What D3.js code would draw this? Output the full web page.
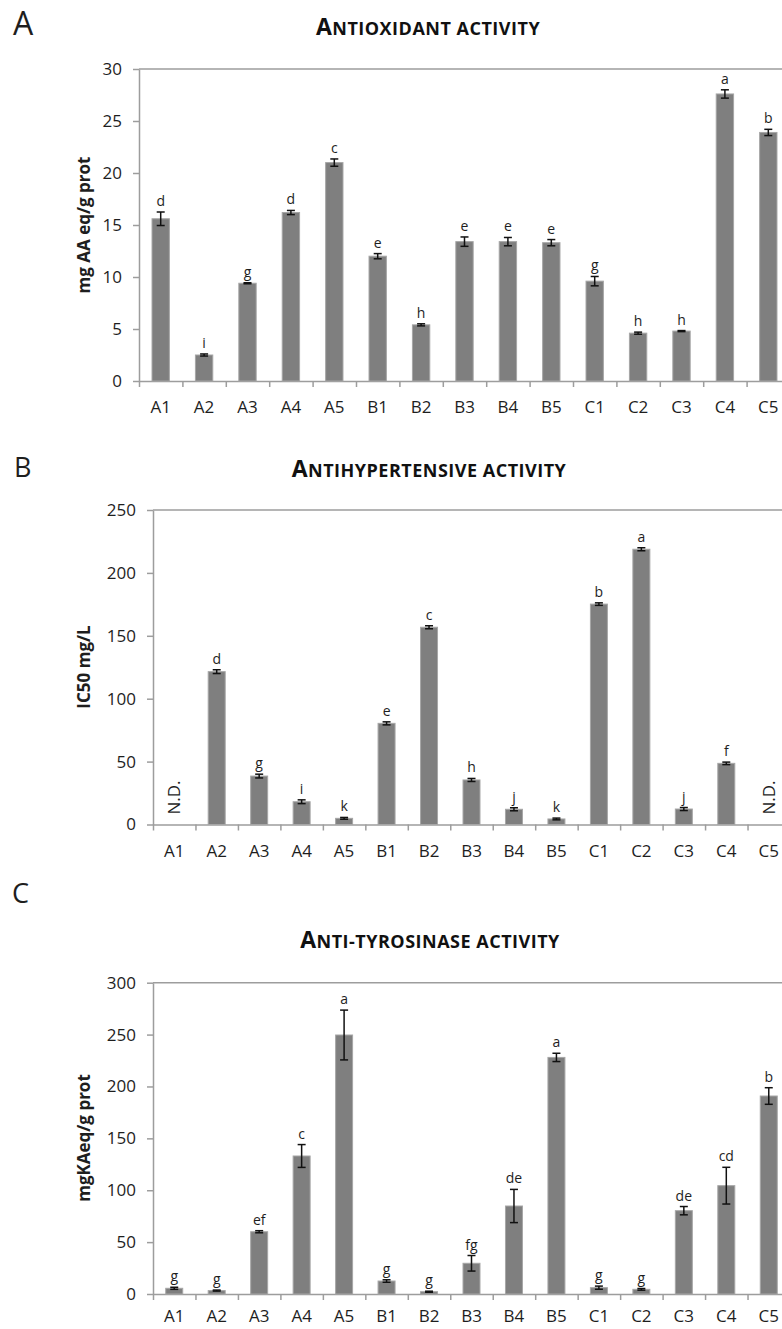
<!DOCTYPE html>
<html>
<head>
<meta charset="utf-8">
<script src="https://cdn.jsdelivr.net/npm/d3@7"></script>
<style>
  body { margin: 0; background: #fff; }
  svg { display: block; font-family: "Open Sans", sans-serif; }
</style>
</head>
<body>
<svg id="chart" width="782" height="1329"></svg>
<script>
const categories = ["A1", "A2", "A3", "A4", "A5", "B1", "B2", "B3", "B4", "B5", "C1", "C2", "C3", "C4", "C5"];

// A - antioxidant activity (mg AA eq/g prot)
const antioxValues = [15.6, 2.5, 9.4, 16.2, 21.0, 12.0, 5.4, 13.4, 13.4, 13.3, 9.6, 4.6, 4.8, 27.6, 23.9];
const antioxErrors = [0.65, 0.1, 0.05, 0.2, 0.35, 0.25, 0.1, 0.45, 0.4, 0.3, 0.45, 0.1, 0.05, 0.4, 0.3];
const antioxLetters = ["d", "i", "g", "d", "c", "e", "h", "e", "e", "e", "g", "h", "h", "a", "b"];

// B - antihypertensive activity (IC50 mg/L), null = N.D.
const antihypValues = [null, 121.5, 38.5, 18.1, 4.9, 80.4, 156.8, 35.4, 12.1, 4.4, 175.2, 218.8, 12.3, 48.6, null];
const antihypErrors = [0, 1.5, 1.5, 1.5, 0.7, 1.2, 1.2, 1.2, 1.2, 0.7, 1.0, 1.2, 1.2, 1.0, 0];
const antihypLetters = ["", "d", "g", "i", "k", "e", "c", "h", "j", "k", "b", "a", "j", "f", ""];

// C - anti-tyrosinase activity (mgKAeq/g prot)
const tyrosValues = [5.5, 3.3, 60, 133, 249.6, 12.5, 2.2, 29.6, 84.8, 228, 6.1, 4.5, 80.3, 104.4, 190.8];
const tyrosErrors = [1, 0.5, 1, 11, 24, 1.2, 0.5, 7.5, 16, 4, 1.5, 0.8, 4, 17.7, 8];
const tyrosLetters = ["g", "g", "ef", "c", "a", "g", "g", "fg", "de", "a", "g", "g", "de", "cd", "b"];

const barFill = "#7f7f7f";
const barStroke = "#a6a6a6";
const axisColor = "#9d9d9d";
const textColor = "#1e1e1e";

const svg = d3.select("#chart");

const panels = [
  { letter: "A", letterSize: 32, letterX: 13, letterY: 35,
    title: ["A", "NTIOXIDANT ACTIVITY"], titleX: 428, titleY: 35,
    yTitle: "mg AA eq/g prot", yTitleY: 225,
    values: antioxValues, errors: antioxErrors, letters: antioxLetters,
    left: 139, right: 790, top: 69, bottom: 381, yMax: 30, yStep: 5, labelPad: 20 },
  { letter: "B", letterSize: 27, letterX: 14, letterY: 477,
    title: ["A", "NTIHYPERTENSIVE ACTIVITY"], titleX: 429, titleY: 477,
    yTitle: "IC50 mg/L", yTitleY: 667,
    values: antihypValues, errors: antihypErrors, letters: antihypLetters,
    left: 153, right: 790, top: 510, bottom: 824.5, yMax: 250, yStep: 50, labelPad: 20 },
  { letter: "C", letterSize: 27, letterX: 12, letterY: 903,
    title: ["A", "NTI-TYROSINASE ACTIVITY"], titleX: 430, titleY: 948,
    yTitle: "mgKAeq/g prot", yTitleY: 1138,
    values: tyrosValues, errors: tyrosErrors, letters: tyrosLetters,
    left: 153, right: 790, top: 982.7, bottom: 1294, yMax: 300, yStep: 50, labelPad: 16 }
];

function drawPanel(p) {
  const g = svg.append("g");

  const x = d3.scaleBand()
    .domain(categories)
    .range([p.left, p.right])
    .paddingInner(0.6)
    .paddingOuter(0.3);
  const xEdges = d3.scaleLinear()
    .domain([0, categories.length])
    .range([p.left, p.right]);
  const y = d3.scaleLinear()
    .domain([0, p.yMax])
    .range([p.bottom, p.top]);

  // panel letter and title
  g.append("text")
    .attr("x", p.letterX)
    .attr("y", p.letterY)
    .attr("font-size", p.letterSize)
    .attr("fill", textColor)
    .text(p.letter);

  const title = g.append("text")
    .attr("x", p.titleX)
    .attr("y", p.titleY)
    .attr("text-anchor", "middle")
    .attr("font-weight", "bold")
    .attr("letter-spacing", 0.5)
    .attr("fill", "#111");
  title.append("tspan").attr("font-size", 23).text(p.title[0]);
  title.append("tspan").attr("font-size", 18).text(p.title[1]);

  // y title
  g.append("text")
    .attr("transform", `translate(90,${p.yTitleY}) rotate(-90)`)
    .attr("text-anchor", "middle")
    .attr("font-weight", "bold")
    .attr("font-size", 17)
    .attr("fill", textColor)
    .text(p.yTitle);

  // top border line at max
  g.append("line")
    .attr("x1", p.left).attr("x2", p.right)
    .attr("y1", y(p.yMax)).attr("y2", y(p.yMax))
    .attr("stroke", axisColor)
    .attr("stroke-width", 1.5);

  // y axis
  g.append("g")
    .attr("transform", `translate(${p.left},0)`)
    .call(d3.axisLeft(y)
      .tickValues(d3.range(0, p.yMax + 1, p.yStep))
      .tickSize(6)
      .tickSizeOuter(0)
      .tickPadding(11)
      .tickFormat(d3.format("d")))
    .call(ax => {
      ax.select(".domain").attr("stroke", axisColor).attr("stroke-width", 1.5);
      ax.selectAll(".tick line").attr("stroke", axisColor).attr("stroke-width", 1.5);
      ax.selectAll(".tick text")
        .attr("font-size", 17)
        .attr("font-family", "Open Sans")
        .attr("fill", textColor);
    });

  // x axis line with ticks between categories
  g.append("g")
    .attr("transform", `translate(0,${p.bottom})`)
    .call(d3.axisBottom(xEdges)
      .tickValues(d3.range(0, categories.length + 1))
      .tickSize(6)
      .tickSizeOuter(0)
      .tickFormat(""))
    .call(ax => {
      ax.select(".domain").attr("stroke", axisColor).attr("stroke-width", 1.5);
      ax.selectAll(".tick line").attr("stroke", axisColor).attr("stroke-width", 1.5);
    });

  // x labels
  g.append("g")
    .attr("transform", `translate(0,${p.bottom})`)
    .call(d3.axisBottom(x).tickSize(0).tickPadding(p.labelPad))
    .call(ax => {
      ax.select(".domain").remove();
      ax.selectAll(".tick text")
        .attr("font-size", 17)
        .attr("font-family", "Open Sans")
        .attr("fill", textColor);
    });

  const rows = categories.map((c, i) => ({
    cat: c, value: p.values[i], err: p.errors[i], letter: p.letters[i]
  }));
  const present = rows.filter(d => d.value !== null);
  const missing = rows.filter(d => d.value === null);
  const cx = d => x(d.cat) + x.bandwidth() / 2;

  // bars
  g.append("g").selectAll("rect")
    .data(present)
    .join("rect")
    .attr("x", d => x(d.cat))
    .attr("y", d => y(d.value))
    .attr("width", x.bandwidth())
    .attr("height", d => y(0) - y(d.value))
    .attr("fill", barFill)
    .attr("stroke", barStroke)
    .attr("stroke-width", 1);

  // error bars
  const eb = g.append("g")
    .attr("stroke", "#111")
    .attr("stroke-width", 1.5)
    .selectAll("g")
    .data(present)
    .join("g");
  eb.append("line")
    .attr("x1", cx).attr("x2", cx)
    .attr("y1", d => y(d.value + d.err))
    .attr("y2", d => y(d.value - d.err));
  eb.append("line")
    .attr("x1", d => cx(d) - 4).attr("x2", d => cx(d) + 4)
    .attr("y1", d => y(d.value + d.err))
    .attr("y2", d => y(d.value + d.err));
  eb.append("line")
    .attr("x1", d => cx(d) - 4).attr("x2", d => cx(d) + 4)
    .attr("y1", d => y(d.value - d.err))
    .attr("y2", d => y(d.value - d.err));

  // significance letters
  g.append("g").selectAll("text")
    .data(present)
    .join("text")
    .attr("x", cx)
    .attr("y", d => y(d.value + d.err) - 6)
    .attr("text-anchor", "middle")
    .attr("font-size", 14)
    .attr("fill", textColor)
    .text(d => d.letter);

  // not detected
  g.append("g").selectAll("text")
    .data(missing)
    .join("text")
    .attr("transform", d => `translate(${cx(d) + 6},${y(0) - 10}) rotate(-90)`)
    .attr("font-size", 17)
    .attr("fill", textColor)
    .text("N.D.");
}

panels.forEach(drawPanel);
</script>
</body>
</html>
